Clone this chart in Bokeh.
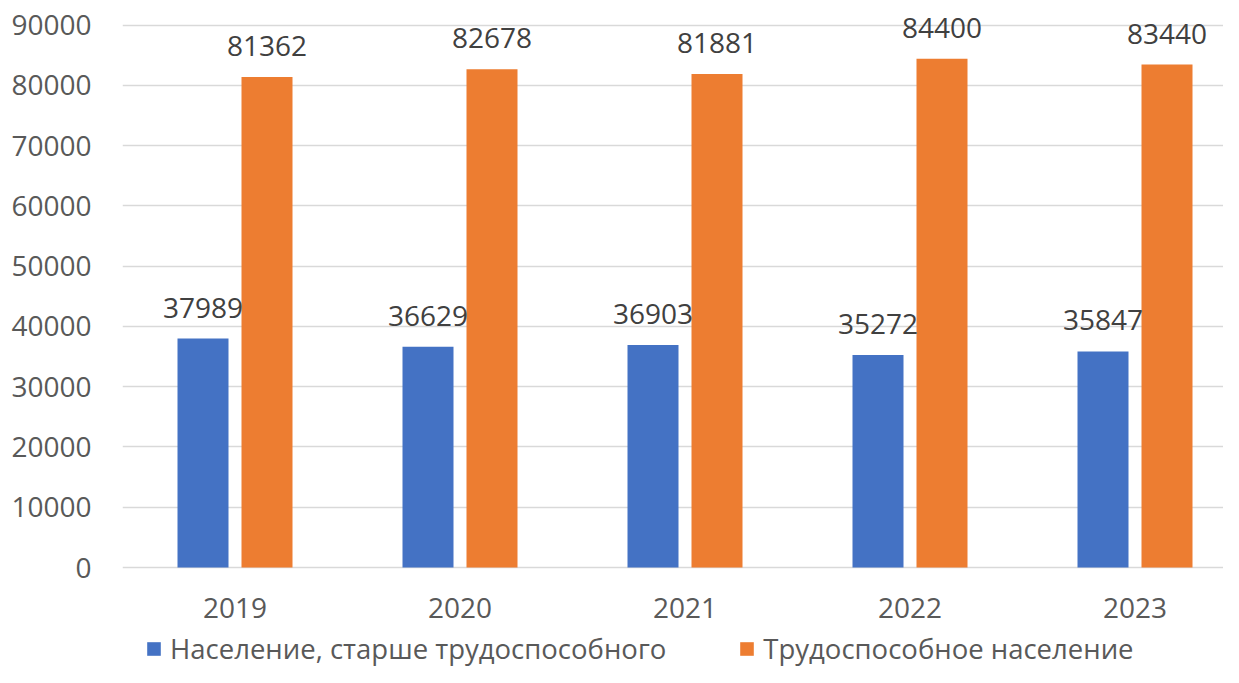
from bokeh.plotting import figure
from bokeh.models import ColumnDataSource, Range1d, FixedTicker, LabelSet, Legend, LegendItem
from bokeh.transform import dodge
from bokeh.core.properties import value
from bokeh.embed import file_html
from bokeh.resources import INLINE

years = ["2019", "2020", "2021", "2022", "2023"]
older = [37989, 36629, 36903, 35272, 35847]
working = [81362, 82678, 81881, 84400, 83440]
series_names = ["Население, старше трудоспособного", "Трудоспособное население"]
y_ticks = [0, 10000, 20000, 30000, 40000, 50000, 60000, 70000, 80000, 90000]

pos = [i + 0.5 for i in range(len(years))]
src = ColumnDataSource(dict(x=pos, older=older, working=working,
                            older_t=[str(v) for v in older],
                            working_t=[str(v) for v in working],
                            year=years, zero=[0] * len(years)))

FONT = "Open Sans"
W, H = 1223, 667
left, top = 122, 2
zero_px = 567          # screen y of value 0
top_val_px = 24.5      # screen y of value 90000
px_per_unit = 225.0
px_per_val = (zero_px - top_val_px) / 90000
frame_w = W - left

p = figure(width=W, height=H, output_backend="svg", toolbar_location=None,
           x_range=Range1d(0, frame_w / px_per_unit),
           y_range=Range1d(-(H - zero_px) / px_per_val, 90000 + (top_val_px - top) / px_per_val),
           x_axis_location=None,
           min_border_left=left, min_border_right=0, min_border_top=top,
           min_border_bottom=0)
p.outline_line_color = None
p.background_fill_color = "white"
p.border_fill_color = "white"

bw = 51 / px_per_unit
off = 32 / px_per_unit
r1 = p.vbar(x=dodge("x", -off, range=p.x_range), top="older", width=bw, bottom=0,
            source=src, fill_color="#4472C4", line_color=None)
r2 = p.vbar(x=dodge("x", off, range=p.x_range), top="working", width=bw, bottom=0,
            source=src, fill_color="#ED7D31", line_color=None)

for col, o in (("older", -off), ("working", off)):
    lab = LabelSet(x=dodge("x", o, range=p.x_range), y=col, text=col + "_t", source=src,
                   text_align="center", text_baseline="middle", y_offset=31,
                   text_font=value(FONT), text_font_size="28px", text_color="#404040")
    p.add_layout(lab)

# category labels under the bars
cat = LabelSet(x="x", y="zero", text="year", source=src, text_align="center",
               text_baseline="middle", y_offset=-40, text_font=value(FONT),
               text_font_size="28px", text_color="#595959")
p.add_layout(cat)

p.xgrid.grid_line_color = None
p.ygrid.grid_line_color = "#d9d9d9"
p.ygrid.grid_line_width = 1.5
p.yaxis.ticker = FixedTicker(ticks=y_ticks)
p.ygrid.ticker = FixedTicker(ticks=y_ticks)
ax = p.yaxis[0]
ax.axis_line_color = None
ax.major_tick_line_color = None
ax.minor_tick_line_color = None
ax.major_tick_out = 0
ax.major_tick_in = 0
ax.major_label_text_font = FONT
ax.major_label_text_font_size = "28px"
ax.major_label_text_color = "#595959"
ax.major_label_standoff = 31

legend = Legend(items=[LegendItem(label=series_names[0], renderers=[r1]),
                       LegendItem(label=series_names[1], renderers=[r2])],
                orientation="horizontal", location=(23, 0),
                glyph_width=17, glyph_height=17, label_standoff=8, spacing=72,
                padding=0, margin=0, border_line_color=None, background_fill_alpha=0,
                label_text_font=FONT, label_text_font_size="27.5px",
                label_text_color="#595959")
p.add_layout(legend, "center")

open("out.html", "w").write(file_html(p, INLINE))
